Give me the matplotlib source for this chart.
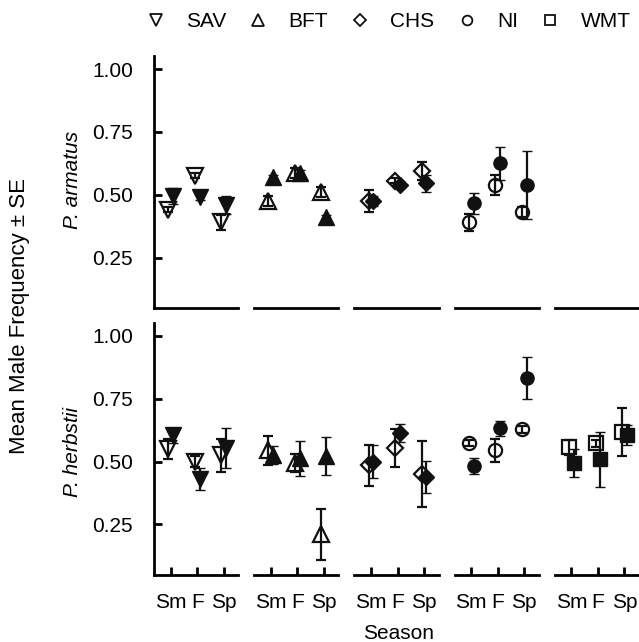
import numpy as np
import matplotlib
matplotlib.use("Agg")
import matplotlib.pyplot as plt
from matplotlib.lines import Line2D

plt.rcParams['font.family'] = ['Liberation Sans', 'DejaVu Sans']
plt.rcParams['font.size'] = 15

sites = ["SAV", "BFT", "CHS", "NI", "WMT"]
site_markers = ["v", "^", "D", "o", "s"]
seasons = ["Sm", "F", "Sp"]
species = ["P. armatus", "P. herbstii"]
nan = np.nan

# P. armatus (no WMT data)
armatus_open_mean = [[0.44, 0.575, 0.39], [0.475, 0.585, 0.51], [0.475, 0.555, 0.595],
                     [0.39, 0.54, 0.43], [nan, nan, nan]]
armatus_open_se = [[0.01, 0.01, 0.03], [0.02, 0.02, 0.02], [0.045, 0.01, 0.035],
                   [0.035, 0.04, 0.02], [nan, nan, nan]]
armatus_fill_mean = [[0.495, 0.49, 0.46], [0.57, 0.585, 0.41], [0.475, 0.54, 0.545],
                     [0.465, 0.625, 0.54], [nan, nan, nan]]
armatus_fill_se = [[0.033, 0.01, 0.035], [0.01, 0.015, 0.01], [0.02, 0.01, 0.035],
                   [0.04, 0.065, 0.135], [nan, nan, nan]]

# P. herbstii
herbstii_open_mean = [[0.55, 0.50, 0.525], [0.545, 0.495, 0.21], [0.485, 0.555, 0.45],
                      [0.575, 0.545, 0.628], [0.557, 0.572, 0.618]]
herbstii_open_se = [[0.04, 0.02, 0.065], [0.058, 0.035, 0.10], [0.082, 0.075, 0.13],
                    [0.012, 0.045, 0.015], [0.03, 0.015, 0.097]]
herbstii_fill_mean = [[0.605, 0.43, 0.553], [0.526, 0.513, 0.522], [0.50, 0.614, 0.438],
                      [0.483, 0.632, 0.833], [0.494, 0.509, 0.605]]
herbstii_fill_se = [[0.03, 0.045, 0.08], [0.035, 0.07, 0.075], [0.065, 0.035, 0.065],
                    [0.033, 0.03, 0.084], [0.055, 0.11, 0.04]]

data = [
    (armatus_open_mean, armatus_open_se, armatus_fill_mean, armatus_fill_se),
    (herbstii_open_mean, herbstii_open_se, herbstii_fill_mean, herbstii_fill_se),
]

fig, axes = plt.subplots(2, 5, figsize=(6.39, 6.42), dpi=100)
fig.subplots_adjust(left=0.241, right=1.0, top=0.912, bottom=0.105, wspace=0.19, hspace=0.062)

x = np.arange(1, 4)
for r in range(2):
    om, ose, fm, fse = data[r]
    for c in range(5):
        ax = axes[r, c]
        mk = site_markers[c]
        ms = 9.5 if mk in ("o", "s") else (8 if mk == "D" else 12)
        ax.errorbar(x - 0.09, om[c], yerr=ose[c], fmt=mk, ms=ms, mfc="none", mec="#111111",
                    mew=1.6, ecolor="#111111", elinewidth=1.6, capsize=3.5, capthick=1.6)
        ax.errorbar(x + 0.09, fm[c], yerr=fse[c], fmt=mk, ms=ms, mfc="#111111", mec="#111111",
                    mew=1.0, ecolor="#111111", elinewidth=1.6, capsize=3.5, capthick=1.6)
        ax.set_xlim(0.37, 3.55)
        ax.set_ylim(0.05, 1.05)
        for s in ["top", "right"]:
            ax.spines[s].set_visible(False)
        ax.spines["bottom"].set_linewidth(2)
        ax.spines["left"].set_linewidth(2)
        ax.set_yticks([0.25, 0.5, 0.75, 1.0])
        ax.set_yticklabels(["0.25", "0.50", "0.75", "1.00"])
        ax.tick_params(axis="y", direction="in", length=6, width=2, pad=15)
        if c > 0:
            ax.spines["left"].set_visible(False)
            ax.tick_params(axis="y", left=False, labelleft=False)
        if r == 1:
            ax.set_xticks(x)
            ax.set_xticklabels(seasons)
            ax.tick_params(axis="x", direction="in", length=6, width=2, pad=13)
        else:
            ax.set_xticks([])

handles = [Line2D([], [], ls="none", marker=m, ms=(7 if m in ("o", "s") else (6 if m == "D" else 8.5)),
                  mfc="none", mec="#111111", mew=1.3) for m in site_markers]
fig.legend(handles, sites, ncol=5, loc="center left", bbox_to_anchor=(0.232, 0.966),
           frameon=False, handlelength=0.7, handletextpad=1.1, columnspacing=1.2,
           borderpad=0, borderaxespad=0)

fig.text(0.031, 0.508, "Mean Male Frequency ± SE", rotation=90, ha="center", va="center",
         fontsize=16)
fig.text(0.113, 0.72, species[0], rotation=90, ha="center", va="center", style="italic")
fig.text(0.113, 0.296, species[1], rotation=90, ha="center", va="center", style="italic")
fig.text(0.623, 0.014, "Season", ha="center", va="center")

fig.savefig("out.png", dpi=100)
